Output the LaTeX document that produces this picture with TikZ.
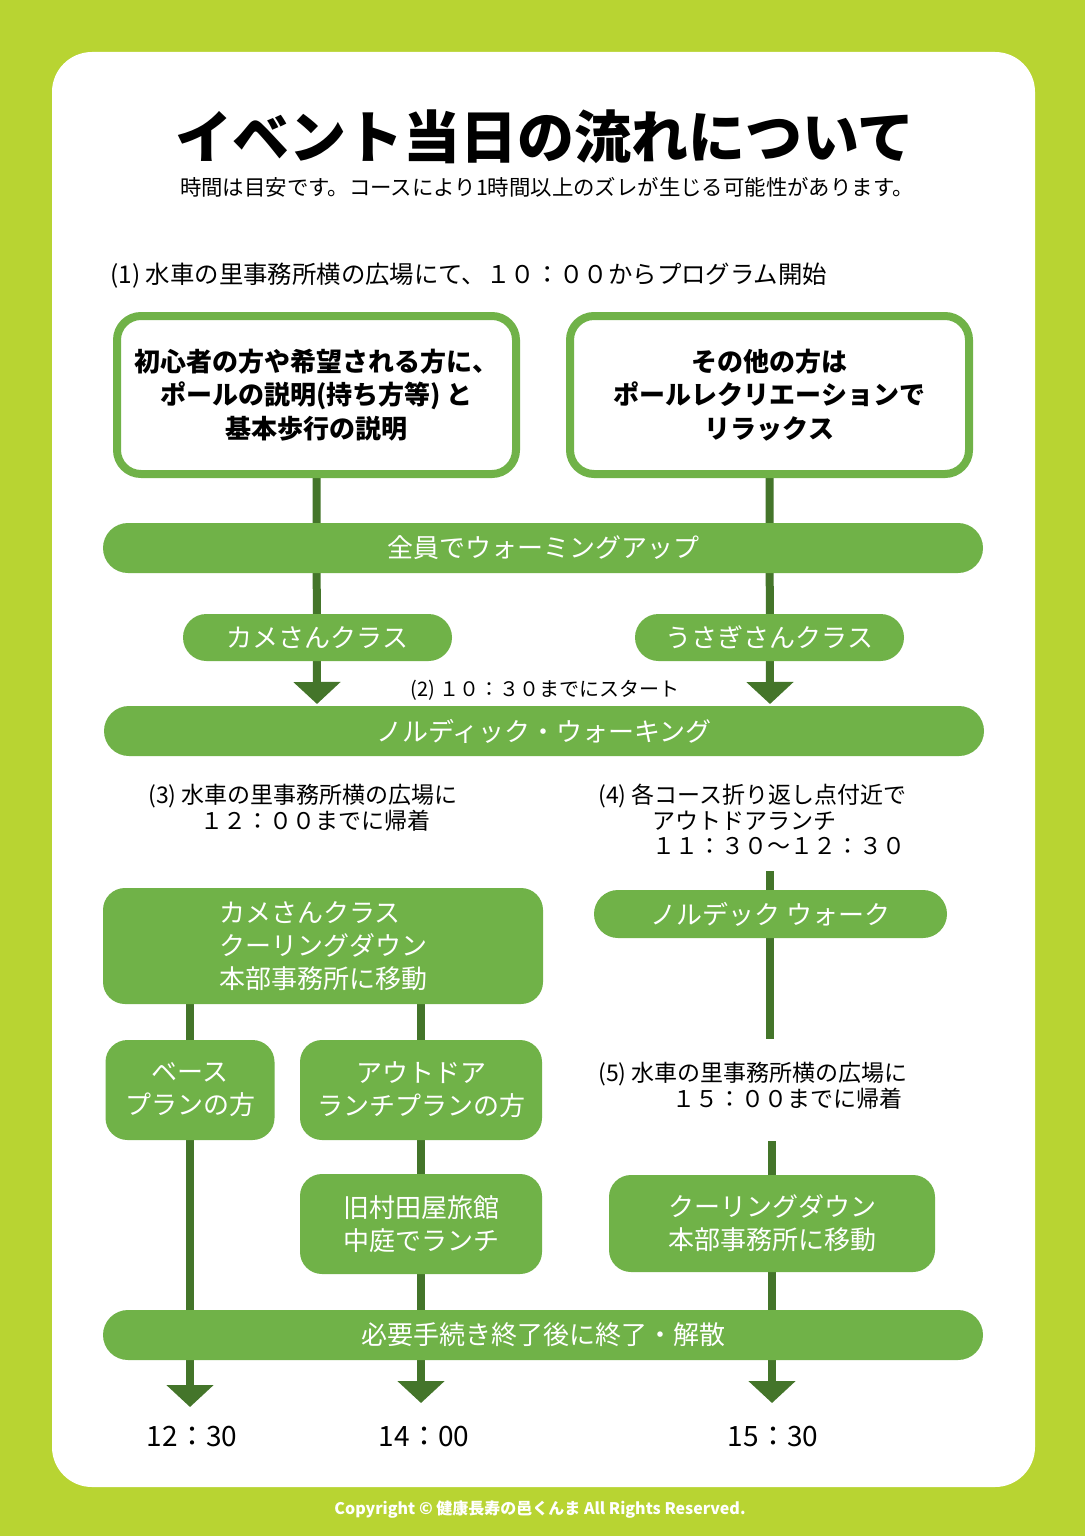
\documentclass[tikz,border=0pt]{standalone}
\usepackage{fontspec}
\setmainfont{Noto Sans CJK JP}
\usetikzlibrary{arrows.meta}
\definecolor{lime}{HTML}{B8D432}
\definecolor{leaf}{HTML}{70B248}
\definecolor{stem}{HTML}{44752A}
\pgfdeclarelayer{paper}
\pgfdeclarelayer{wires}
\pgfsetlayers{paper,wires,main}

\begin{document}
\begin{tikzpicture}[
    x=0.5pt, y=-0.5pt,
    txt/.style={font=\fontsize{13}{16.5}\selectfont, align=center, inner sep=0pt},
    frame/.style={txt, draw=leaf, line width=4pt, fill=white, rounded corners=12pt,
      minimum width=199.5pt, minimum height=79pt, font=\bfseries\fontsize{13}{16.6}\selectfont},
    bar/.style={txt, fill=leaf, text=white, rounded corners=12.5pt,
      minimum width=440pt, minimum height=25pt},
    pill/.style={txt, fill=leaf, text=white, rounded corners=11.75pt,
      minimum width=134.5pt, minimum height=23.5pt},
    card/.style={txt, fill=leaf, text=white, rounded corners=11pt},
    note/.style={inner sep=0pt, align=left, font=\fontsize{11.5}{12.7}\selectfont},
    flow/.style={draw=stem, line width=4pt},
    drop/.style={flow, -{Triangle[width=23pt,length=11pt]}}
  ]
  \begin{pgfonlayer}{paper}
    \fill[lime] (0,0) rectangle (1085,1536);
    \fill[white, rounded corners=20pt] (52,52) rectangle (1035,1487);
  \end{pgfonlayer}

  \node[font=\bfseries\fontsize{28.5}{30}\selectfont] (title) at (545,137) {イベント当日の流れについて};
  \node[font=\fontsize{10.7}{12}\selectfont] (sub) at (547,187) {時間は目安です。コースにより1時間以上のズレが生じる可能性があります。};
  \node[anchor=west, font=\fontsize{12.2}{14}\selectfont, inner sep=0pt] (s1) at (110,276) {(1) 水車の里事務所横の広場にて、１０：００からプログラム開始};

  \node[frame] (a) at (316.5,395) {初心者の方や希望される方に、\\ポールの説明(持ち方等) と\\基本歩行の説明};
  \node[frame] (b) at (769.5,395) {その他の方は\\ポールレクリエーションで\\リラックス};

  \node[bar] (warm) at (543,548) {全員でウォーミングアップ};
  \node[pill] (kame) at (317.5,637.5) {カメさんクラス};
  \node[pill] (usagi) at (769.5,637.5) {うさぎさんクラス};
  \node[font=\fontsize{10}{12}\selectfont, inner sep=0pt] (s2) at (545,690) {(2) １０：３０までにスタート};
  \node[bar] (nordic) at (544,731) {ノルディック・ウォーキング};
  \coordinate (tipa) at (317,704);
  \coordinate (tipb) at (770,704);

  \node[note, anchor=north west] (s3) at (148,784) {(3) 水車の里事務所横の広場に\\\hspace*{26pt}１２：００までに帰着};
  \node[note, anchor=north west] (s4) at (598,784) {(4) 各コース折り返し点付近で\\\hspace*{27pt}アウトドアランチ\\\hspace*{27pt}１１：３０～１２：３０};

  \node[card, minimum width=220pt, minimum height=58pt, align=left] (cool) at (323,946) {カメさんクラス\\クーリングダウン\\本部事務所に移動};
  \node[pill, minimum width=176.5pt, minimum height=24pt, rounded corners=12pt] (walk) at (770.5,914) {ノルデック ウォーク};
  \coordinate (wtop) at (770,871);
  \coordinate (wbot) at (770,1039);

  \node[card, minimum width=84.5pt, minimum height=50pt] (base) at (190,1090) {ベース\\プランの方};
  \node[card, minimum width=121pt, minimum height=50pt] (out) at (421,1090) {アウトドア\\ランチプランの方};
  \node[note, anchor=north west] (s5) at (598,1062) {(5) 水車の里事務所横の広場に\\\hspace*{37pt}１５：００までに帰着};
  \coordinate (ctop) at (772,1141);

  \node[card, minimum width=121pt, minimum height=50pt] (inn) at (421,1224) {旧村田屋旅館\\中庭でランチ};
  \node[card, minimum width=163pt, minimum height=48.5pt] (back) at (772,1223.5) {クーリングダウン\\本部事務所に移動};

  \node[bar] (end) at (543,1335) {必要手続き終了後に終了・解散};
  \coordinate (tip1) at (190,1407);
  \coordinate (tip2) at (421,1403);
  \coordinate (tip3) at (772,1403);

  \node[font=\fontsize{14}{16}\selectfont] (t1) at (192,1437) {12：30};
  \node[font=\fontsize{14}{16}\selectfont] (t2) at (424,1437) {14：00};
  \node[font=\fontsize{14}{16}\selectfont] (t3) at (773,1437) {15：30};

  \node[text=white, font=\bfseries\fontsize{8}{10}\selectfont] (copy) at (540,1510) {Copyright © 健康長寿の邑くんま All Rights Reserved.};

  \begin{pgfonlayer}{wires}
    \draw[drop] (a.south) -- (tipa);
    \draw[drop] (b.south) -- (tipb);
    \draw[flow] (wtop) -- (wbot);
    \draw[flow] (cool.south -| base) -- (base.north);
    \draw[flow] (cool.south -| out) -- (out.north);
    \draw[drop] (base.south) -- (tip1);
    \draw[flow] (out.south) -- (inn.north);
    \draw[drop] (inn.south) -- (tip2);
    \draw[flow] (ctop) -- (back.north);
    \draw[drop] (back.south) -- (tip3);
  \end{pgfonlayer}
\end{tikzpicture}
\end{document}
